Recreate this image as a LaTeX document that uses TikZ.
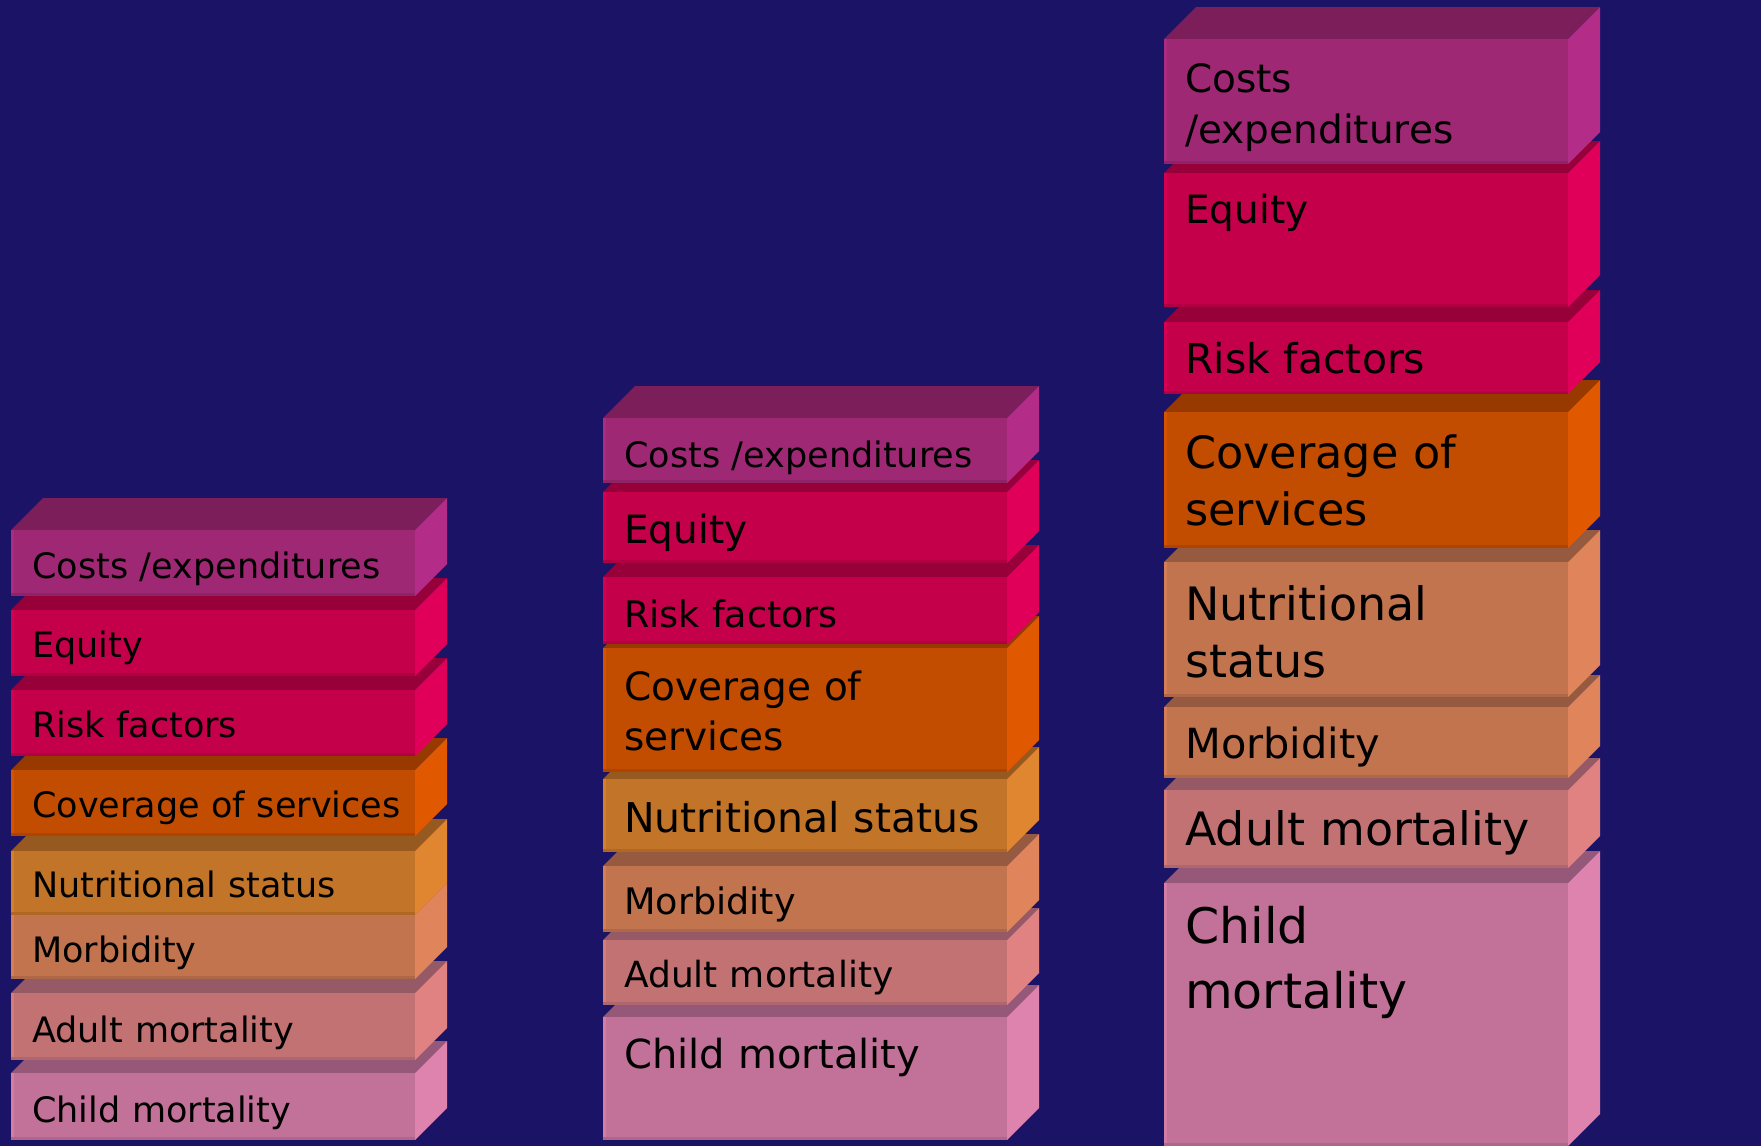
\documentclass[tikz,border=0pt]{standalone}
\usepackage{fontspec}
\setmainfont{DejaVu Sans}

\definecolor{bgblue}{HTML}{1B1466}
\definecolor{costF}{HTML}{9E2873}
\definecolor{costT}{HTML}{7C1E5A}
\definecolor{costS}{HTML}{B32D88}
\definecolor{riskF}{HTML}{C4004B}
\definecolor{riskT}{HTML}{98003A}
\definecolor{riskS}{HTML}{E0005A}
\definecolor{covF}{HTML}{C24C00}
\definecolor{covT}{HTML}{983A00}
\definecolor{covS}{HTML}{E05800}
\definecolor{nutF}{HTML}{C27428}
\definecolor{nutT}{HTML}{965A20}
\definecolor{nutS}{HTML}{E08630}
\definecolor{morF}{HTML}{C2744F}
\definecolor{morT}{HTML}{965A40}
\definecolor{morS}{HTML}{E0845C}
\definecolor{aduF}{HTML}{C27272}
\definecolor{aduT}{HTML}{965A66}
\definecolor{aduS}{HTML}{E08282}
\definecolor{chiF}{HTML}{C27298}
\definecolor{chiT}{HTML}{965878}
\definecolor{chiS}{HTML}{DE82AE}

% one slab: x, front top, front bottom, colour family
\newcommand{\slab}[4]{%
  \fill[#4T] (#1,#2) -- ++(32,-32) -- ++(404,0) -- ++(-32,32) -- cycle;
  \fill[#4S] (#1+404,#2) -- ++(32,-32) -- (#1+436,#3-32) -- (#1+404,#3) -- cycle;
  \fill[#4F] (#1,#2) rectangle (#1+404,#3);
  \fill[#4T!45!#4F] (#1,#3-3) rectangle (#1+404,#3);
  \fill[#4S!60!#4F] (#1,#2) rectangle (#1+3,#3-3);
}

\tikzset{
  lbl/.style 2 args={anchor=base west, inner sep=0pt, text width=390pt,
    align=left, text=black, font=\fontsize{#1}{#2}\selectfont}
}

\begin{document}
\begin{tikzpicture}[x=1pt, y=-1pt]
\useasboundingbox (0,0) rectangle (1761,1146);
\fill[bgblue] (0,0) rectangle (1761,1146);

% left stack
\slab{11}{1073}{1140}{chi}
\slab{11}{993}{1060}{adu}
\slab{11}{915}{979}{mor}
\slab{11}{851}{915}{nut}
\slab{11}{770}{836}{cov}
\slab{11}{690}{756}{risk}
\slab{11}{610}{676}{risk}
\slab{11}{530}{596}{cost}
\node[lbl={35}{44}] (a1) at (32,578) {Costs /expenditures};
\node[lbl={35}{44}] (a2) at (32,657) {Equity};
\node[lbl={35}{44}] (a3) at (32,737) {Risk factors};
\node[lbl={35}{44}] (a4) at (32,817) {Coverage of services};
\node[lbl={35}{44}] (a5) at (32,897) {Nutritional status};
\node[lbl={35}{44}] (a6) at (32,962) {Morbidity};
\node[lbl={35}{44}] (a7) at (32,1042) {Adult mortality};
\node[lbl={35}{44}] (a8) at (32,1122) {Child mortality};

% middle stack
\slab{603}{1017}{1140}{chi}
\slab{603}{940}{1005}{adu}
\slab{603}{866}{932}{mor}
\slab{603}{779}{852}{nut}
\slab{603}{648}{772}{cov}
\slab{603}{577}{644}{risk}
\slab{603}{492}{563}{risk}
\slab{603}{418}{483}{cost}
\node[lbl={35}{44}] (b1) at (624,467) {Costs /expenditures};
\node[lbl={39}{48}] (b2) at (624,543) {Equity};
\node[lbl={36.5}{45}] (b3) at (624,627) {Risk factors};
\node[lbl={39}{50}] (b4) at (624,700) {Coverage of\\services};
\node[lbl={41}{50}] (b5) at (624,832) {Nutritional status};
\node[lbl={36.5}{45}] (b6) at (624,914) {Morbidity};
\node[lbl={36}{45}] (b7) at (624,987) {Adult mortality};
\node[lbl={40}{50}] (b8) at (624,1068) {Child mortality};

% right stack
\slab{1164}{883}{1146}{chi}
\slab{1164}{790}{868}{adu}
\slab{1164}{707}{778}{mor}
\slab{1164}{562}{697}{mor}
\slab{1164}{412}{548}{cov}
\slab{1164}{322}{394}{risk}
\slab{1164}{173}{307}{risk}
\slab{1164}{39}{164}{cost}
\node[lbl={39}{51}] (c1) at (1185,92) {Costs\\/expenditures};
\node[lbl={39}{50}] (c2) at (1185,223) {Equity};
\node[lbl={41}{50}] (c3) at (1185,373) {Risk factors};
\node[lbl={44.5}{57}] (c4) at (1185,468) {Coverage of\\services};
\node[lbl={46}{57}] (c5) at (1185,620) {Nutritional\\status};
\node[lbl={41.5}{50}] (c6) at (1185,758) {Morbidity};
\node[lbl={46}{56}] (c7) at (1185,845) {Adult mortality};
\node[lbl={49}{65}] (c8) at (1185,943) {Child\\mortality};
\end{tikzpicture}
\end{document}
